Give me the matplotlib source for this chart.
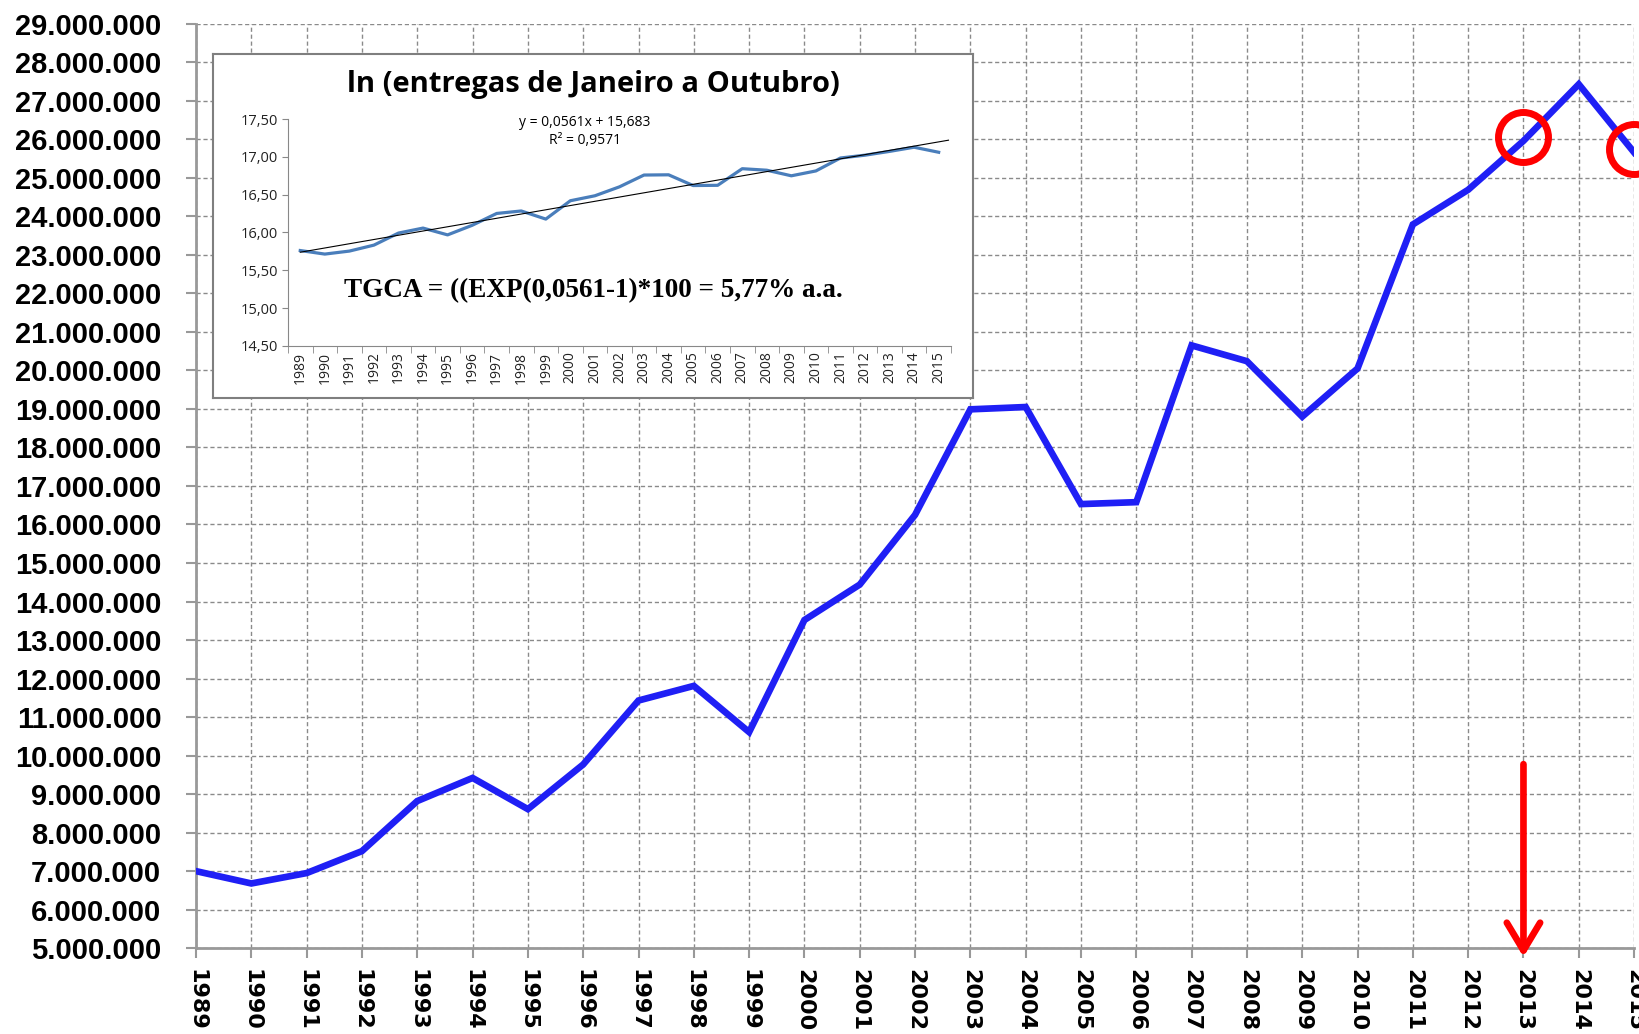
import matplotlib.pyplot as plt
import numpy as np
from matplotlib.ticker import FuncFormatter, MultipleLocator

# entregas de Janeiro a Outubro
anos = list(range(1989, 2016))
entregas = [7.00, 6.68, 6.95, 7.52, 8.82, 9.42, 8.61, 9.77, 11.43, 11.81,
            10.61, 13.52, 14.44, 16.25, 18.99, 19.05, 16.53, 16.58, 20.65,
            20.24, 18.80, 20.05, 23.79, 24.69, 25.96, 27.43, 25.66]
entregas = [v * 1e6 for v in entregas]

# regressao do grafico pequeno: y = 0,0561x + 15,683
coef_a = 0.0561
coef_b = 15.683
anos_marcados = [2013, 2015]

fig = plt.figure(figsize=(16.39, 10.34), dpi=100)
ax = fig.add_axes([0.1196, 0.083, 0.8774, 0.894])

ax.plot(anos, entregas, color="#1f1ff5", lw=4.8, solid_joinstyle="miter", zorder=3)
ax.set_xlim(1989, 2015)
ax.set_ylim(5e6, 29e6)
ax.set_xticks(anos)
ax.set_xticklabels([str(a) for a in anos], rotation=-90, fontsize=16, fontweight="bold",
                   family="DejaVu Sans")
ax.yaxis.set_major_locator(MultipleLocator(1e6))
ax.yaxis.set_major_formatter(FuncFormatter(lambda v, p: f"{int(round(v)):,}".replace(",", ".")))
for lb in ax.get_yticklabels():
    lb.set_fontsize(21)
    lb.set_fontweight("bold")
    lb.set_family("Liberation Sans")
ax.tick_params(axis="y", length=7, width=1.5, color="#999999", pad=18)
ax.tick_params(axis="x", length=7, width=1.5, color="#999999", pad=8)
ax.grid(True, color="#8a8a8a", lw=1, ls=(0, (3, 2)))
for s in ["top", "right"]:
    ax.spines[s].set_visible(False)
for s in ["left", "bottom"]:
    ax.spines[s].set_color("#999999")
    ax.spines[s].set_linewidth(2)

# circulos vermelhos
idx = [anos.index(a) for a in anos_marcados]
ax.plot([anos[i] for i in idx], [entregas[i] + 0.1e6 for i in idx], "o", ms=36, mfc="none",
        mec="red", mew=5, clip_on=False, zorder=4)

# seta vermelha em 2013
ax.annotate("", xy=(2013, 4.7e6), xytext=(2013, 9.85e6),
            arrowprops=dict(arrowstyle="->,head_length=2.0,head_width=1.2", color="red", lw=4.8),
            annotation_clip=False, zorder=4)

# grafico pequeno
box = fig.add_axes([0.130, 0.6151, 0.4637, 0.3327])
box.set_xticks([])
box.set_yticks([])
box.set_facecolor("white")
for s in box.spines.values():
    s.set_color("#7f7f7f")
    s.set_linewidth(1.5)
box.set_zorder(5)

ax_in = fig.add_axes([0.1757, 0.6654, 0.4045, 0.2195])
ax_in.set_zorder(6)
ax_in.patch.set_alpha(0)
x_in = np.arange(1, len(anos) + 1)
ln_entregas = np.log(entregas)
ax_in.plot(x_in, ln_entregas, color="#4a7ebb", lw=2.3)
x_tend = np.array([1, len(anos) + 0.4])
ax_in.plot(x_tend, coef_a * x_tend + coef_b, color="black", lw=0.8)
ax_in.set_xlim(0.5, len(anos) + 0.5)
ax_in.set_ylim(14.5, 17.5)
ax_in.set_yticks(np.arange(14.5, 17.51, 0.5))
ax_in.set_yticklabels([f"{v:.2f}".replace(".", ",") for v in np.arange(14.5, 17.51, 0.5)],
                      fontsize=10.5, family="Open Sans", color="#222222")
ax_in.set_xticks(x_in)
ax_in.set_xticklabels([str(a) for a in anos], rotation=90, fontsize=10, family="Open Sans",
                      color="#222222")
ax_in.set_xticks(np.arange(0.5, len(anos) + 1, 1), minor=True)
ax_in.tick_params(axis="x", which="major", length=0, pad=4)
ax_in.tick_params(axis="x", which="minor", length=5, color="#888888")
ax_in.tick_params(axis="y", length=4, color="#888888", pad=3)
for s in ["top", "right"]:
    ax_in.spines[s].set_visible(False)
for s in ["left", "bottom"]:
    ax_in.spines[s].set_color("#888888")

ax_in.text(0.46, 1.154, "ln (entregas de Janeiro a Outubro)", transform=ax_in.transAxes,
           ha="center", va="center", fontsize=21, fontweight="bold", family="Open Sans")
ax_in.text(0.448, 0.985, "y = 0,0561x + 15,683", transform=ax_in.transAxes,
           ha="center", va="center", fontsize=10, family="Open Sans")
ax_in.text(0.448, 0.905, "R² = 0,9571", transform=ax_in.transAxes,
           ha="center", va="center", fontsize=10, family="Open Sans")
ax_in.text(0.46, 0.245, "TGCA = ((EXP(0,0561-1)*100 = 5,77% a.a.", transform=ax_in.transAxes,
           ha="center", va="center", fontsize=19.5, fontweight="bold", family="Liberation Serif")

fig.savefig("out.png", dpi=100)
